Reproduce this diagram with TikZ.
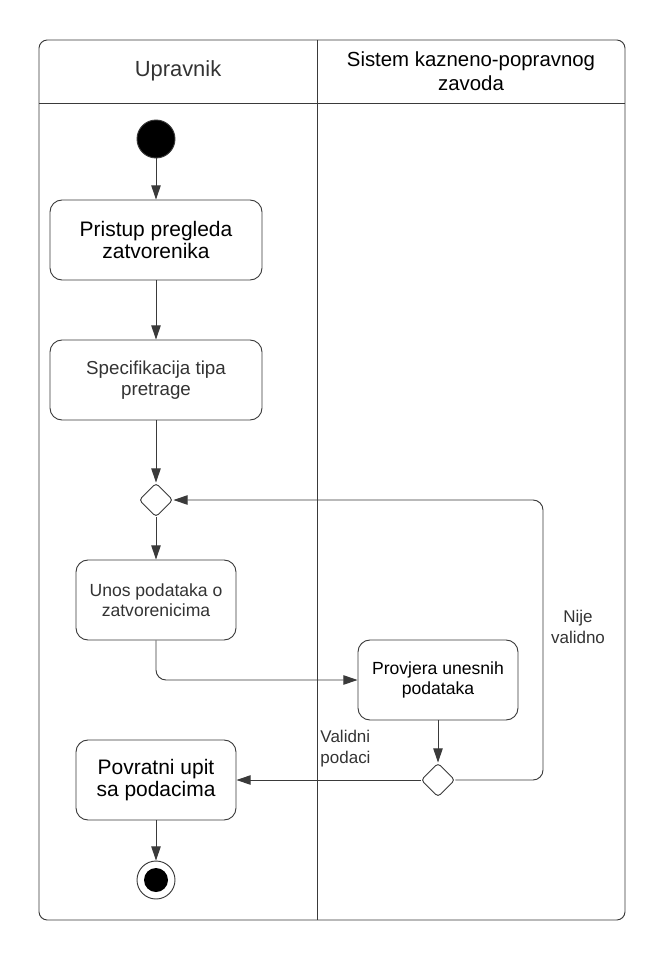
\documentclass[tikz,border=0pt]{standalone}
\usepackage{fontspec}
\setmainfont{Liberation Sans}
\usetikzlibrary{arrows.meta,shapes.geometric}
\definecolor{ln}{HTML}{3A3A3A}
\definecolor{txt}{HTML}{333333}
\tikzset{
  act/.style={draw=ln, rounded corners=0.36cm, align=center, minimum height=2.4cm, inner sep=2pt},
  big/.style={font=\fontsize{17.9}{18.4}\selectfont},
  small/.style={font=\fontsize{15}{17.5}\selectfont, text=txt},
  guard/.style={font=\fontsize{14.5}{18}\selectfont, text=txt, inner sep=0pt},
  merge/.style={diamond, draw=ln, rounded corners=3pt, minimum size=1.02cm, inner sep=0pt, aspect=1}
}
\begin{document}
\begin{tikzpicture}
[x=0.03cm, y=-0.03cm, line width=0.8pt, draw=ln, >={Triangle[length=12pt,width=8pt]}]
  \useasboundingbox (0,0) rectangle (662,961);
  % swimlanes
  \draw[rounded corners=0.25cm] (39,40) rectangle (625,920);
  \draw (39,103) -- (625,103);
  \draw (317,40) -- (317,920);
  \node[font=\fontsize{18.7}{20}\selectfont, text=txt] (lane1) at (178,71) {Upravnik};
  \node[font=\fontsize{17.4}{20}\selectfont, align=center] (lane2) at (471,71) {Sistem kazneno-popravnog\\zavoda};
  % activities
  \node[circle, fill=black, draw=ln, minimum size=1.14cm, inner sep=0pt] (start) at (156,139) {};
  \node[act, big, minimum width=6.36cm] (pristup) at (156,240) {Pristup pregleda\\zatvorenika};
  \node[act, small, font=\fontsize{16}{18}\selectfont, minimum width=6.36cm] (spec) at (156,380) {Specifikacija tipa\\pretrage};
  \node[merge] (m1) at (156,500) {};
  \node[act, small, minimum width=4.8cm] (unos) at (156,600) {Unos podataka o\\zatvorenicima};
  \node[act, small, text=black, minimum width=4.8cm] (provjera) at (438,680) {Provjera unesnih\\podataka};
  \node[merge] (m2) at (438,780) {};
  \node[act, big, minimum width=4.8cm] (povratni) at (156,780) {Povratni upit\\sa podacima};
  \node[circle, draw=ln, minimum size=1.14cm, inner sep=0pt] (end) at (156,880) {};
  \node[circle, fill=black, minimum size=0.72cm, inner sep=0pt] (endin) at (end) {};
  \coordinate (loop) at (543,500);
  \foreach \from/\to in {start/pristup,pristup/spec,spec/m1,m1/unos,provjera/m2,m2/povratni,povratni/end}
  \draw [->] (\from) -- (\to);
  \draw[->, rounded corners=0.3cm] (unos.south) |- (provjera.west);
  \draw[->, rounded corners=0.3cm] (m2.east) -| (loop) -- (m1.east);
  \node[guard, anchor=west, align=left] (valid) at (320,749) {Validni\\podaci};
  \node[guard, align=center] (invalid) at (578,627) {Nije\\validno};
\end{tikzpicture}
\end{document}
